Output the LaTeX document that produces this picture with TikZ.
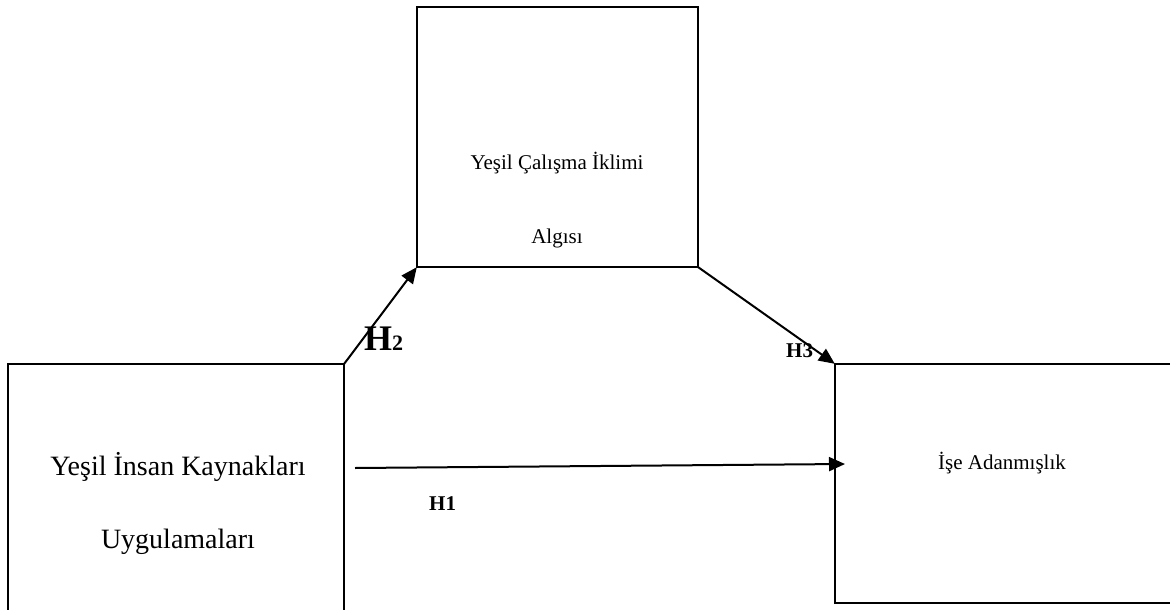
\documentclass[tikz,border=0pt]{standalone}
\usepackage{fontspec}
\setmainfont{Liberation Serif}
\usetikzlibrary{arrows.meta}
\begin{document}
\begin{tikzpicture}[x=1pt,y=-1pt,
  frame/.style={line width=2pt, line join=miter},
  conn/.style={line width=2pt, -{Triangle[length=16pt,width=14pt]}},
  lbl/.style={font=\fontsize{21}{25}\selectfont, inner sep=0pt},
  biglbl/.style={font=\fontsize{28}{31}\selectfont, inner sep=0pt},
  hyp/.style={font=\bfseries\fontsize{21}{24}\selectfont, inner sep=0pt, anchor=base west}]
\useasboundingbox (0,0) rectangle (1170,610);
% boxes
\node[inner sep=0pt, minimum width=281pt, minimum height=260pt] (top) at (557.5,137) {};
\draw[frame] (top.south west) rectangle (top.north east);
\node[inner sep=0pt, minimum width=336pt, minimum height=250pt] (left) at (8+168,364+125) {};
\draw[frame] (left.south west) -- (left.north west) -- (left.north east) -- (left.south east);
\node[inner sep=0pt, minimum width=340pt, minimum height=239pt] (right) at (835+170,364+119.5) {};
\draw[frame] (right.north east) -- (right.north west) -- (right.south west) -- (right.south east);
% texts
\node[lbl] (t1) at (557,163) {Yeşil Çalışma İklimi};
\node[lbl] (t2) at (557,238) {Algısı};
\node[biglbl] (l1) at (178,467) {Yeşil İnsan Kaynakları};
\node[biglbl] (l2) at (178,542) {Uygulamaları};
\node[lbl] (r1) at (1002,463) {İşe Adanmışlık};
% connectors
\draw[conn] (left.north east) -- (top.south west);
\draw[conn] (top.south east) -- (right.north west);
\coordinate (h1s) at (355,468);
\coordinate (h1e) at (845,464);
\draw[conn] (h1s) -- (h1e);
% labels
\node[hyp, font=\bfseries\fontsize{36}{40}\selectfont] (h2) at (364,350) {H\fontsize{22}{24}\selectfont 2};
\node[hyp] (h3) at (786,357) {H3};
\node[hyp] (h1) at (429,510) {H1};
\end{tikzpicture}
\end{document}
